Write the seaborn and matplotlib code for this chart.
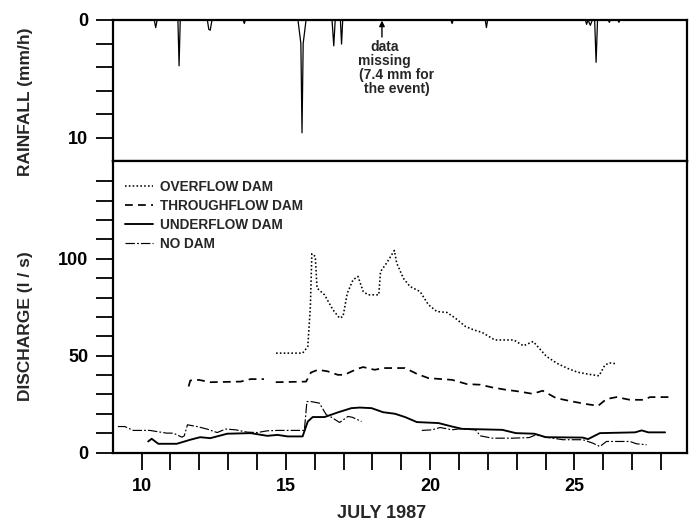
import matplotlib
matplotlib.use("Agg")
import matplotlib.pyplot as plt
import seaborn as sns
import numpy as np
import pandas as pd
from matplotlib.ticker import FixedLocator, NullFormatter

# ---------------- data ----------------
rain_day = [9.00, 10.44, 10.49, 10.54, 11.26, 11.30, 11.34, 12.28, 12.33, 12.38, 12.44,
            13.52, 13.56, 13.60, 15.42, 15.52, 15.56, 15.60, 15.70, 16.60, 16.66, 16.71,
            16.89, 16.93, 16.97, 20.72, 20.76, 20.80, 21.91, 21.95, 21.99, 25.38, 25.42,
            25.47, 25.55, 25.62, 25.70, 25.75, 25.80, 26.17, 26.21, 26.25, 26.50, 26.54,
            26.58, 28.90]
rain_mm = [0.0, 0.0, 0.65, 0.0, 0.0, 3.9, 0.0, 0.0, 0.8, 0.87, 0.0,
           0.0, 0.3, 0.0, 0.0, 2.0, 9.6, 2.0, 0.0, 0.0, 2.2, 0.0,
           0.0, 2.05, 0.0, 0.0, 0.3, 0.0, 0.0, 0.65, 0.0, 0.0, 0.37,
           0.0, 0.45, 0.0, 0.0, 3.6, 0.0, 0.0, 0.2, 0.0, 0.0, 0.2,
           0.0, 0.0]

overflow_day = [14.66, 15.58, 15.76, 15.85, 15.90, 16.02, 16.08, 16.34, 16.63, 16.86, 16.98,
                17.13, 17.33, 17.50, 17.68, 17.85, 18.22, 18.28, 18.49, 18.76, 18.84, 19.07,
                19.30, 19.65, 19.94, 20.23, 20.58, 20.87, 21.22, 21.51, 21.80, 22.24, 22.90,
                23.23, 23.57, 24.03, 24.40, 24.75, 25.10, 25.45, 25.85, 26.05, 26.20, 26.45]
overflow_q = [51.3, 51.3, 54.7, 75.4, 102.6, 101.2, 84.9, 81.4, 73.7, 69.4, 70.2,
              82.3, 89.2, 90.9, 83.1, 81.4, 81.4, 93.4, 97.8, 104.3, 97.8, 90.0,
              85.7, 83.1, 76.3, 72.8, 72.3, 69.4, 65.1, 63.3, 62.0, 58.1, 58.1,
              55.1, 57.3, 49.6, 46.0, 43.5, 41.5, 40.5, 39.6, 45.0, 46.3, 45.8]

through1_day = [11.63, 11.69, 11.98, 12.38, 13.43, 13.78, 14.24]
through1_q = [34.1, 37.2, 37.5, 36.3, 36.6, 37.9, 37.9]
through2_day = [14.65, 15.70, 15.87, 16.11, 16.45, 16.80, 17.03, 17.27, 17.50, 17.68, 18.08,
                18.37, 19.13, 19.54, 19.94, 20.76, 21.28, 21.74, 22.15, 22.62, 23.08, 23.55,
                23.90, 24.36, 24.94, 25.41, 25.82, 26.11, 26.46, 26.92, 27.39, 27.62, 28.37]
through2_q = [36.3, 36.6, 41.3, 42.7, 41.9, 40.1, 40.1, 41.8, 43.3, 44.1, 42.7,
              43.6, 43.6, 40.6, 38.4, 37.5, 35.3, 35.0, 33.6, 32.4, 31.5, 30.3,
              31.9, 28.1, 26.3, 25.0, 24.1, 27.6, 28.6, 27.2, 27.2, 28.6, 28.6]

under_day = [10.23, 10.35, 10.58, 11.22, 11.69, 12.03, 12.38, 12.97, 13.78, 14.36, 14.71,
             15.06, 15.58, 15.76, 15.93, 16.34, 16.80, 17.27, 17.56, 17.97, 18.37, 18.78,
             19.13, 19.54, 20.29, 20.76, 21.11, 22.50, 22.97, 23.61, 24.01, 25.29, 25.47,
             25.88, 27.10, 27.33, 27.56, 28.14]
under_q = [5.7, 7.1, 4.5, 4.5, 6.6, 7.9, 7.4, 9.7, 10.0, 8.6, 9.1,
           8.3, 8.3, 16.0, 18.3, 18.3, 20.7, 22.9, 23.2, 22.9, 20.8, 20.0,
           18.3, 15.7, 15.2, 13.4, 12.2, 11.7, 10.0, 9.7, 7.9, 7.7, 6.9,
           10.0, 10.4, 11.4, 10.4, 10.4]

nodam1_day = [9.18, 9.42, 9.71, 10.29, 10.87, 11.10, 11.40, 11.48, 11.59, 11.92, 12.27,
              12.62, 12.91, 13.26, 13.66, 14.01, 14.36, 14.71, 15.64, 15.73, 15.87, 16.16,
              16.40, 16.57, 16.86, 17.15, 17.30, 17.45, 17.62]
nodam1_q = [13.4, 13.4, 11.4, 11.4, 10.0, 10.0, 7.9, 8.6, 14.3, 13.4, 12.1,
            10.3, 12.1, 11.7, 10.5, 10.3, 11.2, 11.4, 11.4, 26.3, 26.3, 25.5,
            19.5, 18.3, 15.5, 18.6, 18.2, 17.2, 16.0]
nodam2_day = [19.71, 20.06, 20.35, 20.76, 21.00, 21.57, 21.74, 22.15, 22.85, 23.43, 23.66,
              24.01, 24.60, 25.29, 25.64, 25.88, 26.11, 26.92, 27.15, 27.50]
nodam2_q = [11.4, 11.7, 12.9, 11.7, 12.2, 11.7, 8.6, 7.4, 7.4, 7.7, 9.1,
            7.9, 6.6, 6.6, 4.8, 3.1, 5.7, 5.7, 4.5, 4.0]

series_labels = ["OVERFLOW DAM", "THROUGHFLOW DAM", "UNDERFLOW DAM", "NO DAM"]
x_major = [10, 15, 20, 25]
x_minor = [11, 12, 13, 14, 16, 17, 18, 19, 21, 22, 23, 24, 26, 27, 28]
rain_major = [0, 10]
rain_minor = [2, 4, 6, 8]
q_major = [0, 50, 100]
q_minor = [10, 20, 30, 40, 60, 70, 80, 90, 110, 120, 130, 140]

# ---------------- style ----------------
sns.set_theme(style="ticks")
plt.rcParams["font.family"] = ["Liberation Sans", "DejaVu Sans"]
plt.rcParams["font.weight"] = "bold"
plt.rcParams["axes.labelweight"] = "bold"
plt.rcParams["axes.edgecolor"] = "black"
plt.rcParams["axes.linewidth"] = 1.6

W, H = 697.0, 525.0
L, R = 112.7, 687.0
T_r, B_r, B_q = 20.0, 161.0, 452.5

fig = plt.figure(figsize=(W / 100, H / 100), dpi=100)
ax_r = fig.add_axes([L / W, 1 - B_r / H, (R - L) / W, (B_r - T_r) / H])
ax_q = fig.add_axes([L / W, 1 - B_q / H, (R - L) / W, (B_q - B_r) / H])

# ---------------- rainfall panel ----------------
sns.lineplot(x=rain_day, y=rain_mm, ax=ax_r, color="black", lw=0.9,
             sort=False, estimator=None)
ax_r.set_xlim(9, 28.9)
ax_r.set_ylim(12, 0)
ax_r.set_xticks([])
ax_r.yaxis.set_major_locator(FixedLocator(rain_major))
ax_r.yaxis.set_minor_locator(FixedLocator(rain_minor))
ax_r.yaxis.set_minor_formatter(NullFormatter())
ax_r.tick_params(axis="y", which="both", direction="out", length=12, width=1.3,
                 pad=5.5, labelsize=13, colors="black")
ax_r.set_ylabel("RAINFALL (mm/h)", fontsize=12.5, fontweight="bold", va="center")
ax_r.yaxis.set_label_coords(-0.1527, 0.418)
for s in ax_r.spines.values():
    s.set_visible(True)

ax_r.annotate("", xy=(18.33, 0.05), xytext=(18.33, 1.45),
              arrowprops=dict(arrowstyle="-|>", color="black", lw=1.0,
                              mutation_scale=8, shrinkA=0, shrinkB=0))
ax_r.text(18.42, 2.9, "data\nmissing", ha="center", va="center",
          fontsize=10, fontweight="bold", linespacing=0.95)
ax_r.text(18.84, 5.27, "(7.4 mm for\nthe event)", ha="center", va="center",
          fontsize=10, fontweight="bold", linespacing=0.95)

# ---------------- discharge panel ----------------
dot = (0, (1.0, 1.4))
dash = (0, (4.5, 3.0))
dashdot = (0, (8.0, 1.8, 1.5, 1.8))

sns.lineplot(x=overflow_day, y=overflow_q, ax=ax_q, color="black", lw=1.15,
             linestyle=dot, sort=False, estimator=None, label=series_labels[0])
sns.lineplot(x=through1_day, y=through1_q, ax=ax_q, color="black", lw=1.25,
             linestyle=dash, sort=False, estimator=None, label=series_labels[1])
sns.lineplot(x=through2_day, y=through2_q, ax=ax_q, color="black", lw=1.25,
             linestyle=dash, sort=False, estimator=None)
sns.lineplot(x=under_day, y=under_q, ax=ax_q, color="black", lw=1.35,
             linestyle="-", sort=False, estimator=None, label=series_labels[2])
sns.lineplot(x=nodam1_day, y=nodam1_q, ax=ax_q, color="black", lw=0.85,
             linestyle=dashdot, sort=False, estimator=None, label=series_labels[3])
sns.lineplot(x=nodam2_day, y=nodam2_q, ax=ax_q, color="black", lw=0.85,
             linestyle=dashdot, sort=False, estimator=None)

ax_q.set_xlim(9, 28.9)
ax_q.set_ylim(0, 150.5)
ax_q.xaxis.set_major_locator(FixedLocator(x_major))
ax_q.xaxis.set_minor_locator(FixedLocator(x_minor))
ax_q.xaxis.set_minor_formatter(NullFormatter())
ax_q.yaxis.set_major_locator(FixedLocator(q_major))
ax_q.yaxis.set_minor_locator(FixedLocator(q_minor))
ax_q.yaxis.set_minor_formatter(NullFormatter())
ax_q.tick_params(axis="x", which="both", direction="out", length=12, width=1.3,
                 pad=6.5, labelsize=13, colors="black")
ax_q.tick_params(axis="y", which="both", direction="out", length=12, width=1.3,
                 pad=5.5, labelsize=13, colors="black")
for lab in ax_q.get_xticklabels() + ax_q.get_yticklabels() + ax_r.get_yticklabels():
    lab.set_fontweight("bold")
ax_q.set_xlabel("JULY 1987", fontsize=13, fontweight="bold")
ax_q.xaxis.set_label_coords(0.468, -0.180)
ax_q.set_ylabel("DISCHARGE (l / s)", fontsize=12.5, fontweight="bold", va="center")
ax_q.yaxis.set_label_coords(-0.1527, 0.434)
for s in ax_q.spines.values():
    s.set_visible(True)

ax_q.legend(loc="upper left", bbox_to_anchor=(0.022, 0.935), frameon=False,
            borderpad=0, borderaxespad=0, handlelength=2.0, handletextpad=0.55,
            labelspacing=0.37, prop={"size": 9.8, "weight": "bold"})

fig.savefig("out.png", dpi=100, facecolor="white")
